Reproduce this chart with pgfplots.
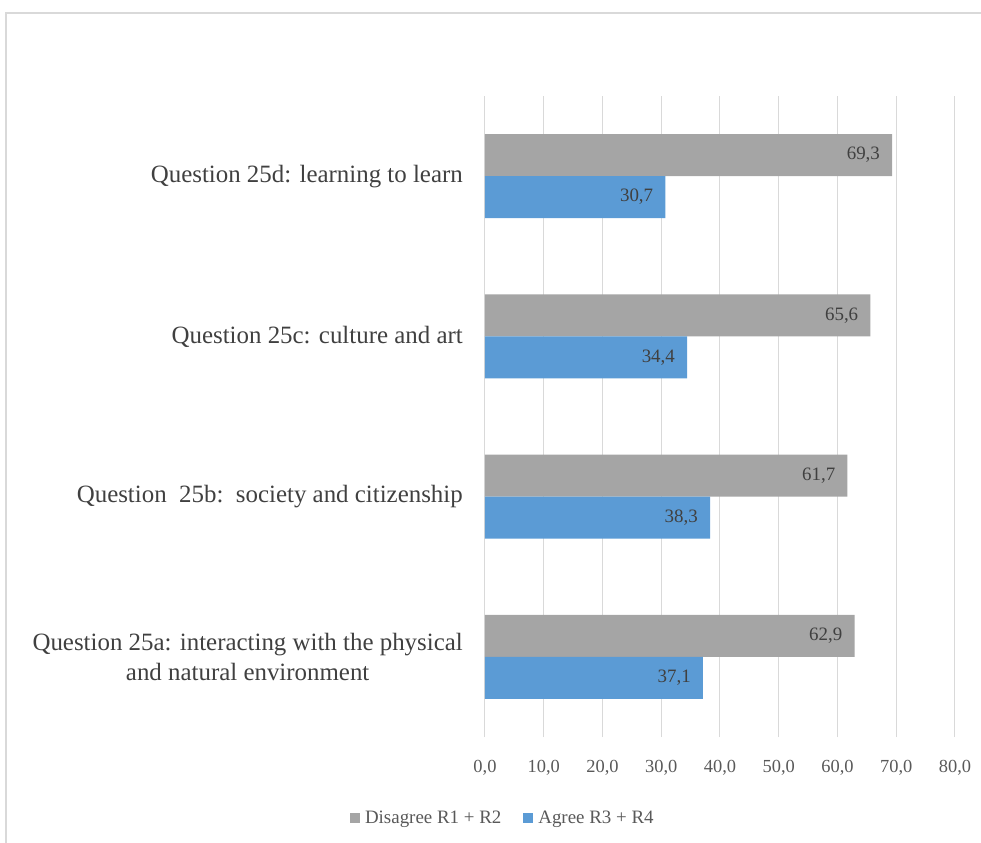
\documentclass[border=0pt]{standalone}
\usepackage{pgfplots}
\pgfplotsset{compat=1.18}
\usepackage{fontspec}
\setmainfont{Liberation Serif}
\definecolor{barGray}{HTML}{A5A5A5}
\definecolor{barBlue}{HTML}{5B9BD5}
\definecolor{gridGray}{HTML}{D9D9D9}
\definecolor{txt}{HTML}{595959}
\definecolor{txtDark}{HTML}{404040}

\begin{document}
\begin{tikzpicture}
\useasboundingbox (0bp,0bp) rectangle (981bp,-843bp);
\draw[gridGray, line width=1.5bp] (6bp,-843bp) -- (6bp,-13bp) -- (981bp,-13bp);
\begin{axis}[
    at={(485bp,-737bp)}, anchor=south west,
    scale only axis, width=470bp, height=641bp,
    xbar, bar width=42bp,
    xmin=0, xmax=80, xtick={0,10,...,80},
    ymin=-0.5, ymax=3.5, ytick={0,1,2,3},
    yticklabels={
        {Question 25a: interacting with the physical\\and natural environment},
        {Question\ \ 25b:\ \ society and citizenship},
        {Question 25c: culture and art},
        {Question 25d: learning to learn}},
    axis line style={draw=none},
    major tick length=0pt,
    xmajorgrids, grid style={gridGray, line width=1bp},
    /pgf/number format/fixed,
    /pgf/number format/fixed zerofill,
    /pgf/number format/precision=1,
    /pgf/number format/use comma,
    /pgf/number format/assume math mode=true,
    xticklabel style={font=\fontsize{18.5}{20}\selectfont, text=txt, anchor=center, yshift=-31bp},
    yticklabel style={font=\fontsize{25}{30}\selectfont, text=txtDark, align=center, anchor=east, inner sep=0pt, xshift=-22bp},
    point meta=x,
    nodes near coords,
    nodes near coords style={anchor=east, inner sep=0pt, xshift=-12bp, font=\fontsize{19}{20}\selectfont, text=txtDark},
    legend style={at={(0.038,-0.126)}, anchor=center, draw=none, legend columns=2,
        font=\fontsize{19}{20}\selectfont, text=txt,
        /tikz/every even column/.append style={column sep=20bp}},
    legend cell align=left,
    legend image code/.code={\fill[#1] (0bp,-5bp) rectangle (10bp,5bp); \path (13bp,0bp);},
]
\addplot[fill=barGray, draw=none, bar shift=21bp] coordinates {(62.9,0) (61.7,1) (65.6,2) (69.3,3)};
\addplot[fill=barBlue, draw=none, bar shift=-21bp] coordinates {(37.1,0) (38.3,1) (34.4,2) (30.7,3)};
\legend{Disagree R1 + R2, Agree R3 + R4}
\end{axis}
\end{tikzpicture}
\end{document}
